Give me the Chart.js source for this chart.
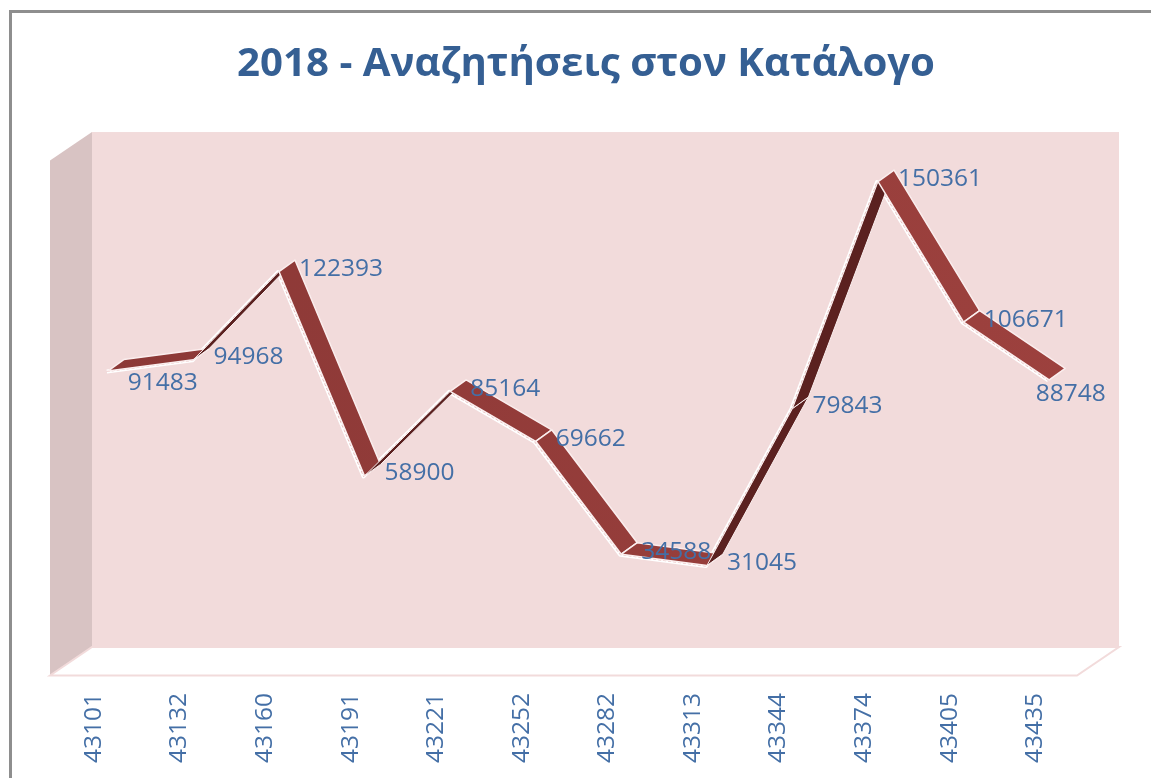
<!DOCTYPE html>
<html lang="el">
<head>
<meta charset="utf-8">
<title>2018 - Αναζητήσεις στον Κατάλογο</title>
<script src="https://cdn.jsdelivr.net/npm/chart.js@4"></script>
<style>
html,body{margin:0;padding:0;background:#fff;overflow:hidden}
#wrap{position:absolute;left:0;top:0;width:1151px;height:778px}
</style>
</head>
<body>
<div id="wrap"><canvas id="c" width="1151" height="778"></canvas></div>
<script>
const categories = ['43101','43132','43160','43191','43221','43252','43282','43313','43344','43374','43405','43435'];
const searches = [91483,94968,122393,58900,85164,69662,34588,31045,79843,150361,106671,88748];

const TEXT_BLUE = '#446fa6';
const wall = {x:14, y:-9.5};       // one third of the box depth
const ribbon = {x:17, y:-12};      // depth of the ribbon faces

const scene = {
  id:'scene',
  afterLayout(chart){
    const t = chart.titleBlock;
    t.left += 8.5; t.right += 8.5;
  },
  beforeDatasetsDraw(chart){
    const {ctx, chartArea:a} = chart;
    const fx = -wall.x, fy = -wall.y, bx = 2*wall.x, by = 2*wall.y;
    ctx.save();
    // frame
    ctx.strokeStyle='#8e8e8e'; ctx.lineWidth=3;
    ctx.beginPath(); ctx.moveTo(10.5,778); ctx.lineTo(10.5,11.5); ctx.lineTo(1151,11.5); ctx.stroke();
    // back wall
    ctx.fillStyle='#f2dbdb';
    ctx.fillRect(a.left+bx,a.top+by,a.width,a.height);
    // side wall
    ctx.fillStyle='#d8c3c3';
    ctx.beginPath();
    ctx.moveTo(a.left+fx,a.top+fy); ctx.lineTo(a.left+bx,a.top+by);
    ctx.lineTo(a.left+bx,a.bottom+by); ctx.lineTo(a.left+fx,a.bottom+fy); ctx.closePath(); ctx.fill();
    // floor
    ctx.fillStyle='#ffffff'; ctx.strokeStyle='#f2dbdb'; ctx.lineWidth=2;
    ctx.beginPath();
    ctx.moveTo(a.left+fx,a.bottom+fy); ctx.lineTo(a.left+bx,a.bottom+by);
    ctx.lineTo(a.right+bx,a.bottom+by); ctx.lineTo(a.right+fx,a.bottom+fy); ctx.closePath(); ctx.fill(); ctx.stroke();
    ctx.restore();
  },
  afterDatasetsDraw(chart){
    const {ctx, chartArea:a} = chart;
    const pts = chart.getDatasetMeta(0).data;
    ctx.save();
    const lit = ctx.createLinearGradient(a.left,0,a.right,0);
    lit.addColorStop(0,'#8b3836'); lit.addColorStop(1,'#9d413e');
    // front edge highlight
    ctx.lineJoin='round';
    ctx.strokeStyle='#ffffff'; ctx.lineWidth=4;
    ctx.beginPath(); pts.forEach((p,i)=> i?ctx.lineTo(p.x,p.y):ctx.moveTo(p.x,p.y)); ctx.stroke();
    ctx.strokeStyle='#e3b6b6'; ctx.lineWidth=1; ctx.setLineDash([3,2]);
    ctx.beginPath(); pts.forEach((p,i)=> i?ctx.lineTo(p.x,p.y):ctx.moveTo(p.x,p.y)); ctx.stroke();
    ctx.setLineDash([]);
    // ribbon faces
    const ox=1, oy=-0.5;
    for(let i=0;i<pts.length-1;i++){
      const p=pts[i], q=pts[i+1];
      const cross=(q.x-p.x)*ribbon.y-(q.y-p.y)*ribbon.x;
      ctx.beginPath();
      ctx.moveTo(p.x+ox,p.y+oy); ctx.lineTo(q.x+ox,q.y+oy);
      ctx.lineTo(q.x+ribbon.x,q.y+ribbon.y); ctx.lineTo(p.x+ribbon.x,p.y+ribbon.y); ctx.closePath();
      ctx.fillStyle = cross<0 ? lit : '#5b2120';
      ctx.strokeStyle='#fbeeee'; ctx.lineWidth=cross<0?1.5:1;
      ctx.fill(); ctx.stroke();
    }
    // value labels
    ctx.font='24.5px "Open Sans"'; ctx.fillStyle=TEXT_BLUE; ctx.textBaseline='middle'; ctx.textAlign='left';
    pts.forEach((p,i)=>{
      let dx=21, dy=-3;
      if(i===0) dy=11;
      if(i===pts.length-1){dx=-12.5; dy=13.5;}
      ctx.fillText(String(searches[i]),p.x+dx,p.y+dy);
    });
    ctx.restore();
  }
};

new Chart(document.getElementById('c'),{
  type:'line',
  data:{labels:categories,datasets:[{
    label:'Αναζητήσεις',data:searches,tension:0,
    borderColor:'rgba(255,255,255,0)',borderWidth:0,pointRadius:0,fill:false
  }]},
  options:{
    responsive:false,animation:false,
    layout:{padding:{left:64,right:60,top:0,bottom:0}},
    plugins:{
      legend:{display:false},tooltip:{enabled:false},
      title:{display:true,text:'2018 - Αναζητήσεις στον Κατάλογο',color:'#355f93',
        font:{family:'"Open Sans"',size:40.2,weight:'bold',lineHeight:1.2},
        padding:{top:40,bottom:62.8}}
    },
    scales:{
      x:{type:'category',offset:true,
        grid:{display:false},border:{display:false},
        ticks:{color:TEXT_BLUE,font:{family:'"Open Sans"',size:24.5},minRotation:90,maxRotation:90,
          autoSkip:false,labelOffset:-13,padding:19},
        afterFit(s){s.height=112;}
      },
      y:{display:false,min:0,max:160000,grid:{display:false}}
    }
  },
  plugins:[scene]
});
</script>
</body>
</html>
